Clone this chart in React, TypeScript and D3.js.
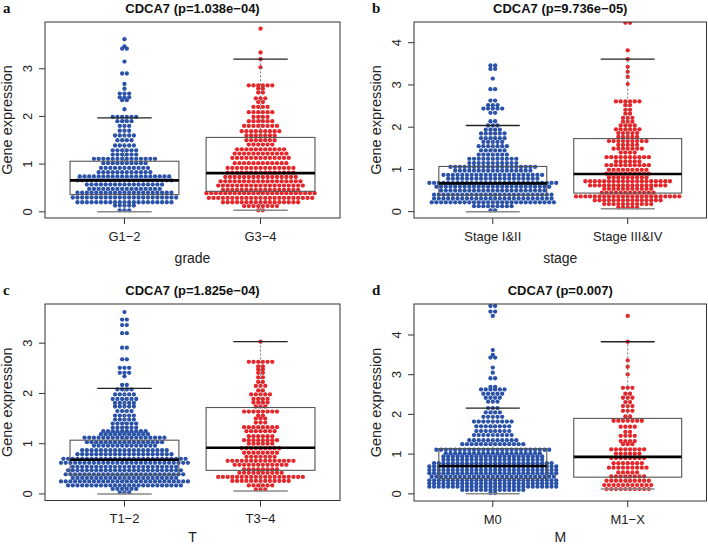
import { useEffect, useRef } from 'react';
import * as d3 from 'd3';

// each group: [value, number of samples at that level]
const gradeCats = ['G1\u22122', 'G3\u22124'];
const gradeLow = [[0.03,3],[0.13,5],[0.2,21],[0.3,23],[0.4,21],[0.48,16],[0.57,17],[0.66,21],[0.74,20],[0.83,12],[0.92,11],[1.02,10],[1.11,14],[1.2,6],[1.29,6],[1.39,5],[1.5,4],[1.6,5],[1.7,3],[1.8,3],[1.9,4],[1.99,6],[2.15,1],[2.34,2],[2.4,3],[2.48,3],[2.58,1],[2.68,1],[2.9,2],[3.15,1],[3.42,2],[3.47,1],[3.62,1]];
const gradeHigh = [[0.03,2],[0.12,8],[0.2,17],[0.29,23],[0.39,24],[0.46,17],[0.55,19],[0.64,18],[0.73,16],[0.82,15],[0.92,15],[1.02,12],[1.13,13],[1.22,12],[1.31,11],[1.41,6],[1.5,7],[1.6,7],[1.69,9],[1.8,8],[1.9,6],[1.99,4],[2.09,6],[2.2,4],[2.3,2],[2.38,3],[2.5,2],[2.58,2],[2.65,6],[3.03,1],[3.2,1],[3.34,1],[3.84,1]];
const gradeBox = [[0, 0.36, 0.66, 1.06, 1.97], [0.03, 0.43, 0.81, 1.56, 3.2]];

const stageCats = ['Stage I&II', 'Stage III&IV'];
const stageLow = [[0.03,2],[0.13,9],[0.22,27],[0.31,26],[0.4,26],[0.5,23],[0.59,25],[0.68,28],[0.78,20],[0.87,22],[0.97,17],[1.06,19],[1.15,11],[1.25,11],[1.35,7],[1.45,6],[1.55,7],[1.65,5],[1.74,6],[1.85,6],[1.94,4],[2.04,3],[2.14,2],[2.34,2],[2.44,5],[2.52,3],[2.63,2],[2.9,2],[3.15,1],[3.38,2],[3.46,2]];
const stageHigh = [[0.1,5],[0.18,11],[0.27,15],[0.36,23],[0.45,12],[0.54,11],[0.62,17],[0.72,19],[0.81,9],[0.9,10],[0.99,9],[1.1,10],[1.19,6],[1.29,10],[1.4,4],[1.49,7],[1.58,5],[1.67,9],[1.77,5],[1.86,5],[1.95,6],[2.04,4],[2.13,3],[2.22,3],[2.32,2],[2.41,2],[2.52,2],[2.61,6],[3.02,1],[3.19,1],[3.31,1],[3.43,1],[3.61,1],[3.82,1],[4.47,2]];
const stageBox = [[0, 0.39, 0.67, 1.07, 2.04], [0.07, 0.44, 0.89, 1.73, 3.61]];

const tCats = ['T1\u22122', 'T3\u22124'];
const tLow = [[0.03,3],[0.1,6],[0.17,25],[0.25,28],[0.32,23],[0.39,26],[0.47,25],[0.54,23],[0.62,28],[0.7,27],[0.79,21],[0.87,19],[0.96,14],[1.03,17],[1.12,18],[1.19,11],[1.25,10],[1.32,6],[1.4,6],[1.48,5],[1.56,5],[1.65,4],[1.74,5],[1.81,5],[1.89,6],[1.98,5],[2.08,4],[2.17,2],[2.34,1],[2.41,3],[2.51,3],[2.68,2],[2.91,2],[3.2,2],[3.36,2],[3.47,2],[3.62,1]];
const tHigh = [[0.09,3],[0.17,6],[0.26,13],[0.34,19],[0.42,10],[0.49,8],[0.58,12],[0.66,15],[0.74,7],[0.82,8],[0.91,9],[1.0,6],[1.07,8],[1.15,6],[1.25,7],[1.33,8],[1.42,3],[1.5,3],[1.56,2],[1.64,8],[1.74,3],[1.82,4],[1.89,4],[1.98,5],[2.06,2],[2.15,3],[2.23,2],[2.32,2],[2.41,2],[2.48,2],[2.54,2],[2.63,6],[3.03,1]];
const tBox = [[0, 0.38, 0.68, 1.07, 2.1], [0.06, 0.47, 0.92, 1.72, 3.03]];

const mCats = ['M0', 'M1\u2212X'];
const mLow = [[0.02,2],[0.1,14],[0.18,28],[0.26,28],[0.34,28],[0.43,27],[0.52,28],[0.6,28],[0.69,28],[0.77,26],[0.86,22],[0.94,22],[1.02,21],[1.11,25],[1.25,14],[1.35,11],[1.48,9],[1.58,8],[1.7,8],[1.82,9],[1.94,5],[2.05,4],[2.16,3],[2.32,3],[2.42,4],[2.52,5],[2.63,6],[2.69,2],[2.91,2],[3.05,1],[3.18,1],[3.43,2],[3.5,1],[3.62,1],[4.48,1],[4.59,2],[4.73,2]];
const mHigh = [[0.12,10],[0.22,11],[0.33,10],[0.44,8],[0.54,5],[0.66,9],[0.77,7],[0.9,8],[1.01,6],[1.12,8],[1.25,3],[1.33,4],[1.46,4],[1.56,2],[1.69,4],[1.84,7],[1.95,2],[2.09,3],[2.21,3],[2.31,2],[2.42,3],[2.52,2],[2.67,3],[3.01,1],[3.2,1],[3.36,1],[3.83,1],[4.48,1]];
const mBox = [[0, 0.39, 0.7, 1.14, 2.16], [0.12, 0.42, 0.93, 1.9, 3.83]];

const W = 708;
const H = 544;
const colors = ['#2a52a9', '#e5262a'];
const sans = 'Liberation Sans, Arial, sans-serif';

const panels = [
  { letter: 'a', title: 'CDCA7 (p=1.038e\u221204)', xlab: 'grade', cats: gradeCats, groups: [gradeLow, gradeHigh], boxes: gradeBox, yDomain: [-0.13, 3.98], ticks: [0, 1, 2, 3], x0: 45, x1: 340, y0: 22, y1: 218, xlabGap: 45 },
  { letter: 'b', title: 'CDCA7 (p=9.736e\u221205)', xlab: 'stage', cats: stageCats, groups: [stageLow, stageHigh], boxes: stageBox, yDomain: [-0.15, 4.49], ticks: [0, 1, 2, 3, 4], x0: 414, x1: 706.5, y0: 22, y1: 218, xlabGap: 45 },
  { letter: 'c', title: 'CDCA7 (p=1.825e\u221204)', xlab: 'T', cats: tCats, groups: [tLow, tHigh], boxes: tBox, yDomain: [-0.13, 3.78], ticks: [0, 1, 2, 3], x0: 45, x1: 340, y0: 304, y1: 500.5, xlabGap: 41.5 },
  { letter: 'd', title: 'CDCA7 (p=0.007)', xlab: 'M', cats: mCats, groups: [mLow, mHigh], boxes: mBox, yDomain: [-0.18, 4.78], ticks: [0, 1, 2, 3, 4], x0: 414, x1: 706.5, y0: 304, y1: 501, xlabGap: 41 },
];

function App() {
  const svgRef = useRef<SVGSVGElement>(null);

  useEffect(() => {
    const svg = d3.select(svgRef.current);
    svg.selectAll('*').remove();

    panels.forEach((p, pi) => {
      const g = svg.append('g');
      const x = d3.scaleLinear().domain([0.416, 2.584]).range([p.x0, p.x1]);
      const y = d3.scaleLinear().domain(p.yDomain).range([p.y1, p.y0]);
      const clipId = `clip${pi}`;
      g.append('clipPath').attr('id', clipId)
        .append('rect').attr('x', p.x0).attr('y', p.y0)
        .attr('width', p.x1 - p.x0).attr('height', p.y1 - p.y0);

      const plot = g.append('g').attr('clip-path', `url(#${clipId})`);
      const step = 4.7;

      // beeswarm points, one row per level
      p.groups.forEach((rows, gi) => {
        const cx = x(gi + 1);
        const pts: { px: number; py: number }[] = [];
        rows.forEach(([v, n]) => {
          for (let i = 0; i < n; i++) {
            pts.push({ px: cx + (i - (n - 1) / 2) * step, py: y(v) });
          }
        });
        plot.append('g').selectAll('circle').data(pts).enter().append('circle')
          .attr('cx', (d) => d.px).attr('cy', (d) => d.py).attr('r', 2.15)
          .attr('fill', colors[gi]);
      });

      // boxplots on top
      p.boxes.forEach(([lo, q1, med, q3, hi], gi) => {
        const c = gi + 1;
        const bx = plot.append('g');
        bx.append('line').attr('x1', x(c)).attr('x2', x(c)).attr('y1', y(q3)).attr('y2', y(hi))
          .attr('stroke', '#777').attr('stroke-dasharray', '2,2');
        bx.append('line').attr('x1', x(c)).attr('x2', x(c)).attr('y1', y(q1)).attr('y2', y(lo))
          .attr('stroke', '#777').attr('stroke-dasharray', '2,2');
        bx.append('line').attr('x1', x(c - 0.2)).attr('x2', x(c + 0.2)).attr('y1', y(hi)).attr('y2', y(hi))
          .attr('stroke', '#222').attr('stroke-width', 1.3);
        bx.append('line').attr('x1', x(c - 0.2)).attr('x2', x(c + 0.2)).attr('y1', y(lo)).attr('y2', y(lo))
          .attr('stroke', '#8a8a8a').attr('stroke-width', 1.5);
        bx.append('rect').attr('x', x(c - 0.4)).attr('y', y(q3))
          .attr('width', x(c + 0.4) - x(c - 0.4)).attr('height', y(q1) - y(q3))
          .attr('fill', 'none').attr('stroke', '#555').attr('stroke-width', 1.1);
        bx.append('line').attr('x1', x(c - 0.4)).attr('x2', x(c + 0.4)).attr('y1', y(med)).attr('y2', y(med))
          .attr('stroke', '#000').attr('stroke-width', 2.6);
      });

      // frame
      g.append('rect').attr('x', p.x0).attr('y', p.y0)
        .attr('width', p.x1 - p.x0).attr('height', p.y1 - p.y0)
        .attr('fill', 'none').attr('stroke', '#333').attr('stroke-width', 1);

      // y axis
      const ya = g.append('g');
      p.ticks.forEach((t) => {
        ya.append('line').attr('x1', p.x0 - 6).attr('x2', p.x0).attr('y1', y(t)).attr('y2', y(t))
          .attr('stroke', '#333');
        ya.append('text').attr('transform', `translate(${p.x0 - 17.5},${y(t)}) rotate(-90)`)
          .attr('text-anchor', 'middle').attr('dy', '0.36em')
          .attr('font-family', sans).attr('font-size', 13).attr('fill', '#222').text(t);
      });
      g.append('text').attr('transform', `translate(${p.x0 - 38.5},${(p.y0 + p.y1) / 2}) rotate(-90)`)
        .attr('text-anchor', 'middle').attr('dy', '0.36em')
        .attr('font-family', sans).attr('font-size', 14.5).attr('fill', '#222').text('Gene expression');

      // x axis
      p.cats.forEach((cat, i) => {
        g.append('line').attr('x1', x(i + 1)).attr('x2', x(i + 1)).attr('y1', p.y1).attr('y2', p.y1 + 6)
          .attr('stroke', '#333');
        g.append('text').attr('x', x(i + 1)).attr('y', p.y1 + 22.5).attr('text-anchor', 'middle')
          .attr('font-family', sans).attr('font-size', 13).attr('fill', '#222').text(cat);
      });
      g.append('text').attr('x', (p.x0 + p.x1) / 2).attr('y', p.y1 + p.xlabGap).attr('text-anchor', 'middle')
        .attr('font-family', sans).attr('font-size', 14).attr('fill', '#222').text(p.xlab);

      // title and panel letter
      g.append('text').attr('x', (p.x0 + p.x1) / 2).attr('y', p.y0 - 9.5).attr('text-anchor', 'middle')
        .attr('font-family', sans).attr('font-weight', 'bold').attr('font-size', 13).attr('fill', '#111')
        .text(p.title);
      g.append('text').attr('x', p.x0 - 42).attr('y', p.y0 - 9).attr('font-family', 'Liberation Serif, serif')
        .attr('font-weight', 'bold').attr('font-size', 15).attr('fill', '#111').text(p.letter);
    });
  }, []);

  return (
    <svg ref={svgRef} width={W} height={H}
      style={{ position: 'absolute', left: 0, top: 0, background: '#fff' }} />
  );
}

export default App;
